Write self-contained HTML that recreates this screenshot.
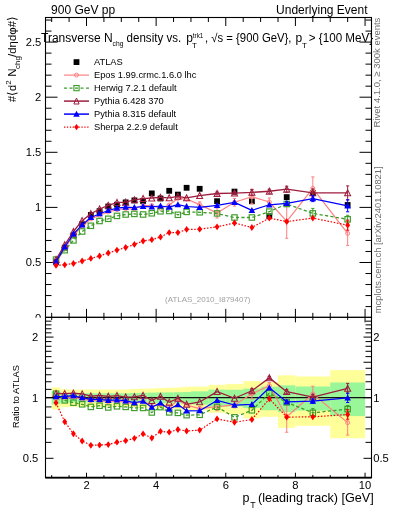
<!DOCTYPE html>
<html><head><meta charset="utf-8"><style>html,body{margin:0;padding:0;background:#fff;width:393px;height:512px;overflow:hidden}svg{display:block;will-change:transform}</style></head>
<body><svg width="393" height="512" viewBox="0 0 393 512"><text x="41.3" y="46.00" text-anchor="end" font-size="11.2" font-family="Liberation Sans, sans-serif">2.5</text>
<text x="41.3" y="101.10" text-anchor="end" font-size="11.2" font-family="Liberation Sans, sans-serif">2</text>
<text x="41.3" y="156.20" text-anchor="end" font-size="11.2" font-family="Liberation Sans, sans-serif">1.5</text>
<text x="41.3" y="211.30" text-anchor="end" font-size="11.2" font-family="Liberation Sans, sans-serif">1</text>
<text x="41.3" y="266.40" text-anchor="end" font-size="11.2" font-family="Liberation Sans, sans-serif">0.5</text>
<text x="41.3" y="321.50" text-anchor="end" font-size="11.2" font-family="Liberation Sans, sans-serif">0</text>
<line x1="45.50" y1="317.60" x2="57.50" y2="317.60" stroke="#000" stroke-width="1" />
<line x1="371.50" y1="317.60" x2="359.50" y2="317.60" stroke="#000" stroke-width="1" />
<line x1="45.50" y1="306.58" x2="51.50" y2="306.58" stroke="#000" stroke-width="1" />
<line x1="371.50" y1="306.58" x2="365.50" y2="306.58" stroke="#000" stroke-width="1" />
<line x1="45.50" y1="295.56" x2="51.50" y2="295.56" stroke="#000" stroke-width="1" />
<line x1="371.50" y1="295.56" x2="365.50" y2="295.56" stroke="#000" stroke-width="1" />
<line x1="45.50" y1="284.54" x2="51.50" y2="284.54" stroke="#000" stroke-width="1" />
<line x1="371.50" y1="284.54" x2="365.50" y2="284.54" stroke="#000" stroke-width="1" />
<line x1="45.50" y1="273.52" x2="51.50" y2="273.52" stroke="#000" stroke-width="1" />
<line x1="371.50" y1="273.52" x2="365.50" y2="273.52" stroke="#000" stroke-width="1" />
<line x1="45.50" y1="262.50" x2="57.50" y2="262.50" stroke="#000" stroke-width="1" />
<line x1="371.50" y1="262.50" x2="359.50" y2="262.50" stroke="#000" stroke-width="1" />
<line x1="45.50" y1="251.48" x2="51.50" y2="251.48" stroke="#000" stroke-width="1" />
<line x1="371.50" y1="251.48" x2="365.50" y2="251.48" stroke="#000" stroke-width="1" />
<line x1="45.50" y1="240.46" x2="51.50" y2="240.46" stroke="#000" stroke-width="1" />
<line x1="371.50" y1="240.46" x2="365.50" y2="240.46" stroke="#000" stroke-width="1" />
<line x1="45.50" y1="229.44" x2="51.50" y2="229.44" stroke="#000" stroke-width="1" />
<line x1="371.50" y1="229.44" x2="365.50" y2="229.44" stroke="#000" stroke-width="1" />
<line x1="45.50" y1="218.42" x2="51.50" y2="218.42" stroke="#000" stroke-width="1" />
<line x1="371.50" y1="218.42" x2="365.50" y2="218.42" stroke="#000" stroke-width="1" />
<line x1="45.50" y1="207.40" x2="57.50" y2="207.40" stroke="#000" stroke-width="1" />
<line x1="371.50" y1="207.40" x2="359.50" y2="207.40" stroke="#000" stroke-width="1" />
<line x1="45.50" y1="196.38" x2="51.50" y2="196.38" stroke="#000" stroke-width="1" />
<line x1="371.50" y1="196.38" x2="365.50" y2="196.38" stroke="#000" stroke-width="1" />
<line x1="45.50" y1="185.36" x2="51.50" y2="185.36" stroke="#000" stroke-width="1" />
<line x1="371.50" y1="185.36" x2="365.50" y2="185.36" stroke="#000" stroke-width="1" />
<line x1="45.50" y1="174.34" x2="51.50" y2="174.34" stroke="#000" stroke-width="1" />
<line x1="371.50" y1="174.34" x2="365.50" y2="174.34" stroke="#000" stroke-width="1" />
<line x1="45.50" y1="163.32" x2="51.50" y2="163.32" stroke="#000" stroke-width="1" />
<line x1="371.50" y1="163.32" x2="365.50" y2="163.32" stroke="#000" stroke-width="1" />
<line x1="45.50" y1="152.30" x2="57.50" y2="152.30" stroke="#000" stroke-width="1" />
<line x1="371.50" y1="152.30" x2="359.50" y2="152.30" stroke="#000" stroke-width="1" />
<line x1="45.50" y1="141.28" x2="51.50" y2="141.28" stroke="#000" stroke-width="1" />
<line x1="371.50" y1="141.28" x2="365.50" y2="141.28" stroke="#000" stroke-width="1" />
<line x1="45.50" y1="130.26" x2="51.50" y2="130.26" stroke="#000" stroke-width="1" />
<line x1="371.50" y1="130.26" x2="365.50" y2="130.26" stroke="#000" stroke-width="1" />
<line x1="45.50" y1="119.24" x2="51.50" y2="119.24" stroke="#000" stroke-width="1" />
<line x1="371.50" y1="119.24" x2="365.50" y2="119.24" stroke="#000" stroke-width="1" />
<line x1="45.50" y1="108.22" x2="51.50" y2="108.22" stroke="#000" stroke-width="1" />
<line x1="371.50" y1="108.22" x2="365.50" y2="108.22" stroke="#000" stroke-width="1" />
<line x1="45.50" y1="97.20" x2="57.50" y2="97.20" stroke="#000" stroke-width="1" />
<line x1="371.50" y1="97.20" x2="359.50" y2="97.20" stroke="#000" stroke-width="1" />
<line x1="45.50" y1="86.18" x2="51.50" y2="86.18" stroke="#000" stroke-width="1" />
<line x1="371.50" y1="86.18" x2="365.50" y2="86.18" stroke="#000" stroke-width="1" />
<line x1="45.50" y1="75.16" x2="51.50" y2="75.16" stroke="#000" stroke-width="1" />
<line x1="371.50" y1="75.16" x2="365.50" y2="75.16" stroke="#000" stroke-width="1" />
<line x1="45.50" y1="64.14" x2="51.50" y2="64.14" stroke="#000" stroke-width="1" />
<line x1="371.50" y1="64.14" x2="365.50" y2="64.14" stroke="#000" stroke-width="1" />
<line x1="45.50" y1="53.12" x2="51.50" y2="53.12" stroke="#000" stroke-width="1" />
<line x1="371.50" y1="53.12" x2="365.50" y2="53.12" stroke="#000" stroke-width="1" />
<line x1="45.50" y1="42.10" x2="57.50" y2="42.10" stroke="#000" stroke-width="1" />
<line x1="371.50" y1="42.10" x2="359.50" y2="42.10" stroke="#000" stroke-width="1" />
<line x1="45.50" y1="31.08" x2="51.50" y2="31.08" stroke="#000" stroke-width="1" />
<line x1="371.50" y1="31.08" x2="365.50" y2="31.08" stroke="#000" stroke-width="1" />
<line x1="45.50" y1="20.06" x2="51.50" y2="20.06" stroke="#000" stroke-width="1" />
<line x1="371.50" y1="20.06" x2="365.50" y2="20.06" stroke="#000" stroke-width="1" />
<line x1="51.68" y1="17.50" x2="51.68" y2="22.00" stroke="#000" stroke-width="1" />
<line x1="51.68" y1="317.35" x2="51.68" y2="312.85" stroke="#000" stroke-width="1" />
<line x1="69.09" y1="17.50" x2="69.09" y2="22.00" stroke="#000" stroke-width="1" />
<line x1="69.09" y1="317.35" x2="69.09" y2="312.85" stroke="#000" stroke-width="1" />
<line x1="86.50" y1="17.50" x2="86.50" y2="26.00" stroke="#000" stroke-width="1" />
<line x1="86.50" y1="317.35" x2="86.50" y2="308.85" stroke="#000" stroke-width="1" />
<line x1="103.91" y1="17.50" x2="103.91" y2="22.00" stroke="#000" stroke-width="1" />
<line x1="103.91" y1="317.35" x2="103.91" y2="312.85" stroke="#000" stroke-width="1" />
<line x1="121.32" y1="17.50" x2="121.32" y2="22.00" stroke="#000" stroke-width="1" />
<line x1="121.32" y1="317.35" x2="121.32" y2="312.85" stroke="#000" stroke-width="1" />
<line x1="138.73" y1="17.50" x2="138.73" y2="22.00" stroke="#000" stroke-width="1" />
<line x1="138.73" y1="317.35" x2="138.73" y2="312.85" stroke="#000" stroke-width="1" />
<line x1="156.14" y1="17.50" x2="156.14" y2="26.00" stroke="#000" stroke-width="1" />
<line x1="156.14" y1="317.35" x2="156.14" y2="308.85" stroke="#000" stroke-width="1" />
<line x1="173.55" y1="17.50" x2="173.55" y2="22.00" stroke="#000" stroke-width="1" />
<line x1="173.55" y1="317.35" x2="173.55" y2="312.85" stroke="#000" stroke-width="1" />
<line x1="190.96" y1="17.50" x2="190.96" y2="22.00" stroke="#000" stroke-width="1" />
<line x1="190.96" y1="317.35" x2="190.96" y2="312.85" stroke="#000" stroke-width="1" />
<line x1="208.37" y1="17.50" x2="208.37" y2="22.00" stroke="#000" stroke-width="1" />
<line x1="208.37" y1="317.35" x2="208.37" y2="312.85" stroke="#000" stroke-width="1" />
<line x1="225.78" y1="17.50" x2="225.78" y2="26.00" stroke="#000" stroke-width="1" />
<line x1="225.78" y1="317.35" x2="225.78" y2="308.85" stroke="#000" stroke-width="1" />
<line x1="243.19" y1="17.50" x2="243.19" y2="22.00" stroke="#000" stroke-width="1" />
<line x1="243.19" y1="317.35" x2="243.19" y2="312.85" stroke="#000" stroke-width="1" />
<line x1="260.60" y1="17.50" x2="260.60" y2="22.00" stroke="#000" stroke-width="1" />
<line x1="260.60" y1="317.35" x2="260.60" y2="312.85" stroke="#000" stroke-width="1" />
<line x1="278.01" y1="17.50" x2="278.01" y2="22.00" stroke="#000" stroke-width="1" />
<line x1="278.01" y1="317.35" x2="278.01" y2="312.85" stroke="#000" stroke-width="1" />
<line x1="295.42" y1="17.50" x2="295.42" y2="26.00" stroke="#000" stroke-width="1" />
<line x1="295.42" y1="317.35" x2="295.42" y2="308.85" stroke="#000" stroke-width="1" />
<line x1="312.83" y1="17.50" x2="312.83" y2="22.00" stroke="#000" stroke-width="1" />
<line x1="312.83" y1="317.35" x2="312.83" y2="312.85" stroke="#000" stroke-width="1" />
<line x1="330.24" y1="17.50" x2="330.24" y2="22.00" stroke="#000" stroke-width="1" />
<line x1="330.24" y1="317.35" x2="330.24" y2="312.85" stroke="#000" stroke-width="1" />
<line x1="347.65" y1="17.50" x2="347.65" y2="22.00" stroke="#000" stroke-width="1" />
<line x1="347.65" y1="317.35" x2="347.65" y2="312.85" stroke="#000" stroke-width="1" />
<line x1="365.06" y1="17.50" x2="365.06" y2="26.00" stroke="#000" stroke-width="1" />
<line x1="365.06" y1="317.35" x2="365.06" y2="308.85" stroke="#000" stroke-width="1" />
<rect x="53.13" y="259.00" width="5.8" height="5.8" fill="#000"/>
<rect x="61.84" y="244.80" width="5.8" height="5.8" fill="#000"/>
<rect x="70.54" y="232.50" width="5.8" height="5.8" fill="#000"/>
<rect x="79.25" y="221.30" width="5.8" height="5.8" fill="#000"/>
<rect x="87.95" y="212.10" width="5.8" height="5.8" fill="#000"/>
<rect x="96.66" y="208.20" width="5.8" height="5.8" fill="#000"/>
<rect x="105.36" y="203.60" width="5.8" height="5.8" fill="#000"/>
<rect x="114.07" y="201.80" width="5.8" height="5.8" fill="#000"/>
<rect x="122.77" y="199.50" width="5.8" height="5.8" fill="#000"/>
<rect x="131.48" y="197.50" width="5.8" height="5.8" fill="#000"/>
<rect x="140.18" y="198.10" width="5.8" height="5.8" fill="#000"/>
<rect x="148.89" y="190.50" width="5.8" height="5.8" fill="#000"/>
<rect x="157.59" y="195.60" width="5.8" height="5.8" fill="#000"/>
<rect x="166.30" y="187.90" width="5.8" height="5.8" fill="#000"/>
<rect x="175.00" y="191.70" width="5.8" height="5.8" fill="#000"/>
<rect x="183.71" y="184.90" width="5.8" height="5.8" fill="#000"/>
<rect x="196.77" y="185.90" width="5.8" height="5.8" fill="#000"/>
<rect x="214.17" y="198.30" width="5.8" height="5.8" fill="#000"/>
<rect x="231.59" y="188.70" width="5.8" height="5.8" fill="#000"/>
<rect x="248.99" y="198.40" width="5.8" height="5.8" fill="#000"/>
<rect x="266.41" y="213.40" width="5.8" height="5.8" fill="#000"/>
<rect x="283.82" y="194.20" width="5.8" height="5.8" fill="#000"/>
<rect x="309.93" y="190.10" width="5.8" height="5.8" fill="#000"/>
<rect x="344.75" y="202.10" width="5.8" height="5.8" fill="#000"/>
<line x1="199.67" y1="201.90" x2="199.67" y2="207.30" stroke="#ff8080" stroke-width="1.0" />
<line x1="198.07" y1="201.90" x2="201.27" y2="201.90" stroke="#ff8080" stroke-width="1.0" />
<line x1="198.07" y1="207.30" x2="201.27" y2="207.30" stroke="#ff8080" stroke-width="1.0" />
<line x1="217.07" y1="208.00" x2="217.07" y2="218.00" stroke="#ff8080" stroke-width="1.0" />
<line x1="215.47" y1="208.00" x2="218.67" y2="208.00" stroke="#ff8080" stroke-width="1.0" />
<line x1="215.47" y1="218.00" x2="218.67" y2="218.00" stroke="#ff8080" stroke-width="1.0" />
<line x1="234.49" y1="198.50" x2="234.49" y2="206.10" stroke="#ff8080" stroke-width="1.0" />
<line x1="232.89" y1="198.50" x2="236.09" y2="198.50" stroke="#ff8080" stroke-width="1.0" />
<line x1="232.89" y1="206.10" x2="236.09" y2="206.10" stroke="#ff8080" stroke-width="1.0" />
<line x1="251.89" y1="189.70" x2="251.89" y2="203.70" stroke="#ff8080" stroke-width="1.0" />
<line x1="250.29" y1="189.70" x2="253.49" y2="189.70" stroke="#ff8080" stroke-width="1.0" />
<line x1="250.29" y1="203.70" x2="253.49" y2="203.70" stroke="#ff8080" stroke-width="1.0" />
<line x1="269.31" y1="198.00" x2="269.31" y2="206.00" stroke="#ff8080" stroke-width="1.0" />
<line x1="267.70" y1="198.00" x2="270.91" y2="198.00" stroke="#ff8080" stroke-width="1.0" />
<line x1="267.70" y1="206.00" x2="270.91" y2="206.00" stroke="#ff8080" stroke-width="1.0" />
<line x1="286.72" y1="204.30" x2="286.72" y2="238.30" stroke="#ff8080" stroke-width="1.0" />
<line x1="285.12" y1="204.30" x2="288.32" y2="204.30" stroke="#ff8080" stroke-width="1.0" />
<line x1="285.12" y1="238.30" x2="288.32" y2="238.30" stroke="#ff8080" stroke-width="1.0" />
<line x1="312.83" y1="176.90" x2="312.83" y2="199.90" stroke="#ff8080" stroke-width="1.0" />
<line x1="311.23" y1="176.90" x2="314.43" y2="176.90" stroke="#ff8080" stroke-width="1.0" />
<line x1="311.23" y1="199.90" x2="314.43" y2="199.90" stroke="#ff8080" stroke-width="1.0" />
<line x1="347.65" y1="221.40" x2="347.65" y2="245.40" stroke="#ff8080" stroke-width="1.0" />
<line x1="346.05" y1="221.40" x2="349.25" y2="221.40" stroke="#ff8080" stroke-width="1.0" />
<line x1="346.05" y1="245.40" x2="349.25" y2="245.40" stroke="#ff8080" stroke-width="1.0" />
<polyline points="56.03,263.00 64.74,248.50 73.44,235.50 82.15,226.30 90.85,219.00 99.56,215.20 108.26,212.00 116.97,209.70 125.67,208.60 134.38,209.00 143.08,205.50 151.79,205.50 160.49,208.20 169.20,205.00 177.90,198.40 186.61,199.00 199.67,204.60 217.07,213.00 234.49,202.30 251.89,196.70 269.31,202.00 286.72,221.30 312.83,188.40 347.65,233.40" fill="none" stroke="#ff8080" stroke-width="1.2" stroke-linejoin="round"/>
<circle cx="56.03" cy="263.00" r="2.0" fill="none" stroke="#ff8080" stroke-width="1.0"/>
<circle cx="64.74" cy="248.50" r="2.0" fill="none" stroke="#ff8080" stroke-width="1.0"/>
<circle cx="73.44" cy="235.50" r="2.0" fill="none" stroke="#ff8080" stroke-width="1.0"/>
<circle cx="82.15" cy="226.30" r="2.0" fill="none" stroke="#ff8080" stroke-width="1.0"/>
<circle cx="90.85" cy="219.00" r="2.0" fill="none" stroke="#ff8080" stroke-width="1.0"/>
<circle cx="99.56" cy="215.20" r="2.0" fill="none" stroke="#ff8080" stroke-width="1.0"/>
<circle cx="108.26" cy="212.00" r="2.0" fill="none" stroke="#ff8080" stroke-width="1.0"/>
<circle cx="116.97" cy="209.70" r="2.0" fill="none" stroke="#ff8080" stroke-width="1.0"/>
<circle cx="125.67" cy="208.60" r="2.0" fill="none" stroke="#ff8080" stroke-width="1.0"/>
<circle cx="134.38" cy="209.00" r="2.0" fill="none" stroke="#ff8080" stroke-width="1.0"/>
<circle cx="143.08" cy="205.50" r="2.0" fill="none" stroke="#ff8080" stroke-width="1.0"/>
<circle cx="151.79" cy="205.50" r="2.0" fill="none" stroke="#ff8080" stroke-width="1.0"/>
<circle cx="160.49" cy="208.20" r="2.0" fill="none" stroke="#ff8080" stroke-width="1.0"/>
<circle cx="169.20" cy="205.00" r="2.0" fill="none" stroke="#ff8080" stroke-width="1.0"/>
<circle cx="177.90" cy="198.40" r="2.0" fill="none" stroke="#ff8080" stroke-width="1.0"/>
<circle cx="186.61" cy="199.00" r="2.0" fill="none" stroke="#ff8080" stroke-width="1.0"/>
<circle cx="199.67" cy="204.60" r="2.0" fill="none" stroke="#ff8080" stroke-width="1.0"/>
<circle cx="217.07" cy="213.00" r="2.0" fill="none" stroke="#ff8080" stroke-width="1.0"/>
<circle cx="234.49" cy="202.30" r="2.0" fill="none" stroke="#ff8080" stroke-width="1.0"/>
<circle cx="251.89" cy="196.70" r="2.0" fill="none" stroke="#ff8080" stroke-width="1.0"/>
<circle cx="269.31" cy="202.00" r="2.0" fill="none" stroke="#ff8080" stroke-width="1.0"/>
<circle cx="286.72" cy="221.30" r="2.0" fill="none" stroke="#ff8080" stroke-width="1.0"/>
<circle cx="312.83" cy="188.40" r="2.0" fill="none" stroke="#ff8080" stroke-width="1.0"/>
<circle cx="347.65" cy="233.40" r="2.0" fill="none" stroke="#ff8080" stroke-width="1.0"/>
<line x1="286.72" y1="202.00" x2="286.72" y2="206.00" stroke="#3c9c28" stroke-width="1.0" />
<line x1="285.12" y1="202.00" x2="288.32" y2="202.00" stroke="#3c9c28" stroke-width="1.0" />
<line x1="285.12" y1="206.00" x2="288.32" y2="206.00" stroke="#3c9c28" stroke-width="1.0" />
<line x1="312.83" y1="208.40" x2="312.83" y2="218.40" stroke="#3c9c28" stroke-width="1.0" />
<line x1="311.23" y1="208.40" x2="314.43" y2="208.40" stroke="#3c9c28" stroke-width="1.0" />
<line x1="311.23" y1="218.40" x2="314.43" y2="218.40" stroke="#3c9c28" stroke-width="1.0" />
<line x1="347.65" y1="215.30" x2="347.65" y2="223.30" stroke="#3c9c28" stroke-width="1.0" />
<line x1="346.05" y1="215.30" x2="349.25" y2="215.30" stroke="#3c9c28" stroke-width="1.0" />
<line x1="346.05" y1="223.30" x2="349.25" y2="223.30" stroke="#3c9c28" stroke-width="1.0" />
<polyline points="56.03,259.60 64.74,250.20 73.44,240.40 82.15,231.50 90.85,225.80 99.56,221.00 108.26,218.80 116.97,215.90 125.67,214.50 134.38,213.90 143.08,214.50 151.79,213.30 160.49,211.30 169.20,211.00 177.90,214.80 186.61,211.90 199.67,212.30 217.07,213.40 234.49,217.50 251.89,217.50 269.31,211.60 286.72,204.00 312.83,213.40 347.65,219.30" fill="none" stroke="#3c9c28" stroke-width="1.3" stroke-dasharray="3.2,2.3" stroke-linejoin="round"/>
<rect x="53.33" y="256.90" width="5.4" height="5.4" fill="none" stroke="#3c9c28" stroke-width="1.15"/>
<rect x="62.04" y="247.50" width="5.4" height="5.4" fill="none" stroke="#3c9c28" stroke-width="1.15"/>
<rect x="70.74" y="237.70" width="5.4" height="5.4" fill="none" stroke="#3c9c28" stroke-width="1.15"/>
<rect x="79.45" y="228.80" width="5.4" height="5.4" fill="none" stroke="#3c9c28" stroke-width="1.15"/>
<rect x="88.15" y="223.10" width="5.4" height="5.4" fill="none" stroke="#3c9c28" stroke-width="1.15"/>
<rect x="96.86" y="218.30" width="5.4" height="5.4" fill="none" stroke="#3c9c28" stroke-width="1.15"/>
<rect x="105.56" y="216.10" width="5.4" height="5.4" fill="none" stroke="#3c9c28" stroke-width="1.15"/>
<rect x="114.27" y="213.20" width="5.4" height="5.4" fill="none" stroke="#3c9c28" stroke-width="1.15"/>
<rect x="122.97" y="211.80" width="5.4" height="5.4" fill="none" stroke="#3c9c28" stroke-width="1.15"/>
<rect x="131.68" y="211.20" width="5.4" height="5.4" fill="none" stroke="#3c9c28" stroke-width="1.15"/>
<rect x="140.38" y="211.80" width="5.4" height="5.4" fill="none" stroke="#3c9c28" stroke-width="1.15"/>
<rect x="149.09" y="210.60" width="5.4" height="5.4" fill="none" stroke="#3c9c28" stroke-width="1.15"/>
<rect x="157.79" y="208.60" width="5.4" height="5.4" fill="none" stroke="#3c9c28" stroke-width="1.15"/>
<rect x="166.50" y="208.30" width="5.4" height="5.4" fill="none" stroke="#3c9c28" stroke-width="1.15"/>
<rect x="175.20" y="212.10" width="5.4" height="5.4" fill="none" stroke="#3c9c28" stroke-width="1.15"/>
<rect x="183.91" y="209.20" width="5.4" height="5.4" fill="none" stroke="#3c9c28" stroke-width="1.15"/>
<rect x="196.97" y="209.60" width="5.4" height="5.4" fill="none" stroke="#3c9c28" stroke-width="1.15"/>
<rect x="214.38" y="210.70" width="5.4" height="5.4" fill="none" stroke="#3c9c28" stroke-width="1.15"/>
<rect x="231.79" y="214.80" width="5.4" height="5.4" fill="none" stroke="#3c9c28" stroke-width="1.15"/>
<rect x="249.19" y="214.80" width="5.4" height="5.4" fill="none" stroke="#3c9c28" stroke-width="1.15"/>
<rect x="266.61" y="208.90" width="5.4" height="5.4" fill="none" stroke="#3c9c28" stroke-width="1.15"/>
<rect x="284.02" y="201.30" width="5.4" height="5.4" fill="none" stroke="#3c9c28" stroke-width="1.15"/>
<rect x="310.13" y="210.70" width="5.4" height="5.4" fill="none" stroke="#3c9c28" stroke-width="1.15"/>
<rect x="344.95" y="216.60" width="5.4" height="5.4" fill="none" stroke="#3c9c28" stroke-width="1.15"/>
<line x1="217.07" y1="192.00" x2="217.07" y2="195.00" stroke="#9e1e3e" stroke-width="1.0" />
<line x1="215.47" y1="192.00" x2="218.67" y2="192.00" stroke="#9e1e3e" stroke-width="1.0" />
<line x1="215.47" y1="195.00" x2="218.67" y2="195.00" stroke="#9e1e3e" stroke-width="1.0" />
<line x1="234.49" y1="191.60" x2="234.49" y2="194.60" stroke="#9e1e3e" stroke-width="1.0" />
<line x1="232.89" y1="191.60" x2="236.09" y2="191.60" stroke="#9e1e3e" stroke-width="1.0" />
<line x1="232.89" y1="194.60" x2="236.09" y2="194.60" stroke="#9e1e3e" stroke-width="1.0" />
<line x1="251.89" y1="189.40" x2="251.89" y2="195.40" stroke="#9e1e3e" stroke-width="1.0" />
<line x1="250.29" y1="189.40" x2="253.49" y2="189.40" stroke="#9e1e3e" stroke-width="1.0" />
<line x1="250.29" y1="195.40" x2="253.49" y2="195.40" stroke="#9e1e3e" stroke-width="1.0" />
<line x1="269.31" y1="189.25" x2="269.31" y2="193.25" stroke="#9e1e3e" stroke-width="1.0" />
<line x1="267.70" y1="189.25" x2="270.91" y2="189.25" stroke="#9e1e3e" stroke-width="1.0" />
<line x1="267.70" y1="193.25" x2="270.91" y2="193.25" stroke="#9e1e3e" stroke-width="1.0" />
<line x1="286.72" y1="186.20" x2="286.72" y2="192.20" stroke="#9e1e3e" stroke-width="1.0" />
<line x1="285.12" y1="186.20" x2="288.32" y2="186.20" stroke="#9e1e3e" stroke-width="1.0" />
<line x1="285.12" y1="192.20" x2="288.32" y2="192.20" stroke="#9e1e3e" stroke-width="1.0" />
<line x1="312.83" y1="188.90" x2="312.83" y2="196.90" stroke="#9e1e3e" stroke-width="1.0" />
<line x1="311.23" y1="188.90" x2="314.43" y2="188.90" stroke="#9e1e3e" stroke-width="1.0" />
<line x1="311.23" y1="196.90" x2="314.43" y2="196.90" stroke="#9e1e3e" stroke-width="1.0" />
<line x1="347.65" y1="185.90" x2="347.65" y2="199.90" stroke="#9e1e3e" stroke-width="1.0" />
<line x1="346.05" y1="185.90" x2="349.25" y2="185.90" stroke="#9e1e3e" stroke-width="1.0" />
<line x1="346.05" y1="199.90" x2="349.25" y2="199.90" stroke="#9e1e3e" stroke-width="1.0" />
<polyline points="56.03,259.50 64.74,244.80 73.44,231.50 82.15,220.70 90.85,213.70 99.56,209.00 108.26,205.40 116.97,202.60 125.67,202.20 134.38,199.90 143.08,198.60 151.79,198.00 160.49,197.40 169.20,197.90 177.90,196.30 186.61,197.90 199.67,195.60 217.07,193.50 234.49,193.10 251.89,192.40 269.31,191.25 286.72,189.20 312.83,192.90 347.65,192.90" fill="none" stroke="#9e1e3e" stroke-width="1.3" stroke-linejoin="round"/>
<polygon points="56.03,256.40 53.03,262.40 59.03,262.40" fill="none" stroke="#9e1e3e" stroke-width="1.05" stroke-linejoin="miter"/>
<polygon points="64.74,241.70 61.74,247.70 67.74,247.70" fill="none" stroke="#9e1e3e" stroke-width="1.05" stroke-linejoin="miter"/>
<polygon points="73.44,228.40 70.44,234.40 76.44,234.40" fill="none" stroke="#9e1e3e" stroke-width="1.05" stroke-linejoin="miter"/>
<polygon points="82.15,217.60 79.15,223.60 85.15,223.60" fill="none" stroke="#9e1e3e" stroke-width="1.05" stroke-linejoin="miter"/>
<polygon points="90.85,210.60 87.85,216.60 93.85,216.60" fill="none" stroke="#9e1e3e" stroke-width="1.05" stroke-linejoin="miter"/>
<polygon points="99.56,205.90 96.56,211.90 102.56,211.90" fill="none" stroke="#9e1e3e" stroke-width="1.05" stroke-linejoin="miter"/>
<polygon points="108.26,202.30 105.26,208.30 111.26,208.30" fill="none" stroke="#9e1e3e" stroke-width="1.05" stroke-linejoin="miter"/>
<polygon points="116.97,199.50 113.97,205.50 119.97,205.50" fill="none" stroke="#9e1e3e" stroke-width="1.05" stroke-linejoin="miter"/>
<polygon points="125.67,199.10 122.67,205.10 128.67,205.10" fill="none" stroke="#9e1e3e" stroke-width="1.05" stroke-linejoin="miter"/>
<polygon points="134.38,196.80 131.38,202.80 137.38,202.80" fill="none" stroke="#9e1e3e" stroke-width="1.05" stroke-linejoin="miter"/>
<polygon points="143.08,195.50 140.08,201.50 146.08,201.50" fill="none" stroke="#9e1e3e" stroke-width="1.05" stroke-linejoin="miter"/>
<polygon points="151.79,194.90 148.79,200.90 154.79,200.90" fill="none" stroke="#9e1e3e" stroke-width="1.05" stroke-linejoin="miter"/>
<polygon points="160.49,194.30 157.49,200.30 163.49,200.30" fill="none" stroke="#9e1e3e" stroke-width="1.05" stroke-linejoin="miter"/>
<polygon points="169.20,194.80 166.20,200.80 172.20,200.80" fill="none" stroke="#9e1e3e" stroke-width="1.05" stroke-linejoin="miter"/>
<polygon points="177.90,193.20 174.90,199.20 180.90,199.20" fill="none" stroke="#9e1e3e" stroke-width="1.05" stroke-linejoin="miter"/>
<polygon points="186.61,194.80 183.61,200.80 189.61,200.80" fill="none" stroke="#9e1e3e" stroke-width="1.05" stroke-linejoin="miter"/>
<polygon points="199.67,192.50 196.67,198.50 202.67,198.50" fill="none" stroke="#9e1e3e" stroke-width="1.05" stroke-linejoin="miter"/>
<polygon points="217.07,190.40 214.07,196.40 220.07,196.40" fill="none" stroke="#9e1e3e" stroke-width="1.05" stroke-linejoin="miter"/>
<polygon points="234.49,190.00 231.49,196.00 237.49,196.00" fill="none" stroke="#9e1e3e" stroke-width="1.05" stroke-linejoin="miter"/>
<polygon points="251.89,189.30 248.89,195.30 254.89,195.30" fill="none" stroke="#9e1e3e" stroke-width="1.05" stroke-linejoin="miter"/>
<polygon points="269.31,188.15 266.31,194.15 272.31,194.15" fill="none" stroke="#9e1e3e" stroke-width="1.05" stroke-linejoin="miter"/>
<polygon points="286.72,186.10 283.72,192.10 289.72,192.10" fill="none" stroke="#9e1e3e" stroke-width="1.05" stroke-linejoin="miter"/>
<polygon points="312.83,189.80 309.83,195.80 315.83,195.80" fill="none" stroke="#9e1e3e" stroke-width="1.05" stroke-linejoin="miter"/>
<polygon points="347.65,189.80 344.65,195.80 350.65,195.80" fill="none" stroke="#9e1e3e" stroke-width="1.05" stroke-linejoin="miter"/>
<line x1="286.72" y1="201.30" x2="286.72" y2="205.30" stroke="#0000ff" stroke-width="1.0" />
<line x1="285.12" y1="201.30" x2="288.32" y2="201.30" stroke="#0000ff" stroke-width="1.0" />
<line x1="285.12" y1="205.30" x2="288.32" y2="205.30" stroke="#0000ff" stroke-width="1.0" />
<line x1="312.83" y1="195.60" x2="312.83" y2="201.60" stroke="#0000ff" stroke-width="1.0" />
<line x1="311.23" y1="195.60" x2="314.43" y2="195.60" stroke="#0000ff" stroke-width="1.0" />
<line x1="311.23" y1="201.60" x2="314.43" y2="201.60" stroke="#0000ff" stroke-width="1.0" />
<line x1="347.65" y1="199.80" x2="347.65" y2="211.80" stroke="#0000ff" stroke-width="1.0" />
<line x1="346.05" y1="199.80" x2="349.25" y2="199.80" stroke="#0000ff" stroke-width="1.0" />
<line x1="346.05" y1="211.80" x2="349.25" y2="211.80" stroke="#0000ff" stroke-width="1.0" />
<polyline points="56.03,261.60 64.74,247.00 73.44,234.00 82.15,224.80 90.85,217.50 99.56,213.70 108.26,210.50 116.97,208.20 125.67,207.10 134.38,207.50 143.08,206.30 151.79,206.90 160.49,206.00 169.20,207.10 177.90,204.60 186.61,206.50 199.67,207.30 217.07,205.40 234.49,202.40 251.89,210.40 269.31,204.80 286.72,203.30 312.83,198.60 347.65,205.80" fill="none" stroke="#0000ff" stroke-width="1.2" stroke-linejoin="round"/>
<polygon points="56.03,258.20 52.73,264.20 59.33,264.20" fill="#0000ff"/>
<polygon points="64.74,243.60 61.44,249.60 68.04,249.60" fill="#0000ff"/>
<polygon points="73.44,230.60 70.14,236.60 76.74,236.60" fill="#0000ff"/>
<polygon points="82.15,221.40 78.85,227.40 85.45,227.40" fill="#0000ff"/>
<polygon points="90.85,214.10 87.55,220.10 94.15,220.10" fill="#0000ff"/>
<polygon points="99.56,210.30 96.26,216.30 102.86,216.30" fill="#0000ff"/>
<polygon points="108.26,207.10 104.96,213.10 111.56,213.10" fill="#0000ff"/>
<polygon points="116.97,204.80 113.67,210.80 120.27,210.80" fill="#0000ff"/>
<polygon points="125.67,203.70 122.37,209.70 128.97,209.70" fill="#0000ff"/>
<polygon points="134.38,204.10 131.08,210.10 137.68,210.10" fill="#0000ff"/>
<polygon points="143.08,202.90 139.78,208.90 146.38,208.90" fill="#0000ff"/>
<polygon points="151.79,203.50 148.49,209.50 155.09,209.50" fill="#0000ff"/>
<polygon points="160.49,202.60 157.19,208.60 163.79,208.60" fill="#0000ff"/>
<polygon points="169.20,203.70 165.90,209.70 172.50,209.70" fill="#0000ff"/>
<polygon points="177.90,201.20 174.60,207.20 181.20,207.20" fill="#0000ff"/>
<polygon points="186.61,203.10 183.31,209.10 189.91,209.10" fill="#0000ff"/>
<polygon points="199.67,203.90 196.37,209.90 202.97,209.90" fill="#0000ff"/>
<polygon points="217.07,202.00 213.77,208.00 220.38,208.00" fill="#0000ff"/>
<polygon points="234.49,199.00 231.19,205.00 237.79,205.00" fill="#0000ff"/>
<polygon points="251.89,207.00 248.59,213.00 255.19,213.00" fill="#0000ff"/>
<polygon points="269.31,201.40 266.00,207.40 272.61,207.40" fill="#0000ff"/>
<polygon points="286.72,199.90 283.42,205.90 290.02,205.90" fill="#0000ff"/>
<polygon points="312.83,195.20 309.53,201.20 316.13,201.20" fill="#0000ff"/>
<polygon points="347.65,202.40 344.35,208.40 350.95,208.40" fill="#0000ff"/>
<line x1="347.65" y1="220.20" x2="347.65" y2="230.20" stroke="#ff0000" stroke-width="1.0" />
<line x1="346.05" y1="220.20" x2="349.25" y2="220.20" stroke="#ff0000" stroke-width="1.0" />
<line x1="346.05" y1="230.20" x2="349.25" y2="230.20" stroke="#ff0000" stroke-width="1.0" />
<polyline points="56.03,265.40 64.74,264.80 73.44,263.50 82.15,261.00 90.85,258.40 99.56,256.00 108.26,253.00 116.97,250.10 125.67,247.50 134.38,244.40 143.08,241.00 151.79,239.70 160.49,237.00 169.20,232.60 177.90,232.60 186.61,229.40 199.67,229.20 217.07,226.80 234.49,223.00 251.89,227.50 269.31,218.10 286.72,221.60 312.83,218.10 347.65,225.20" fill="none" stroke="#ff0000" stroke-width="1.2" stroke-dasharray="1.6,1.6" stroke-linejoin="round"/>
<polygon points="56.03,262.00 53.58,265.40 56.03,268.80 58.48,265.40" fill="#ff0000"/>
<polygon points="64.74,261.40 62.29,264.80 64.74,268.20 67.19,264.80" fill="#ff0000"/>
<polygon points="73.44,260.10 70.99,263.50 73.44,266.90 75.89,263.50" fill="#ff0000"/>
<polygon points="82.15,257.60 79.70,261.00 82.15,264.40 84.60,261.00" fill="#ff0000"/>
<polygon points="90.85,255.00 88.40,258.40 90.85,261.80 93.30,258.40" fill="#ff0000"/>
<polygon points="99.56,252.60 97.11,256.00 99.56,259.40 102.01,256.00" fill="#ff0000"/>
<polygon points="108.26,249.60 105.81,253.00 108.26,256.40 110.71,253.00" fill="#ff0000"/>
<polygon points="116.97,246.70 114.52,250.10 116.97,253.50 119.42,250.10" fill="#ff0000"/>
<polygon points="125.67,244.10 123.22,247.50 125.67,250.90 128.12,247.50" fill="#ff0000"/>
<polygon points="134.38,241.00 131.93,244.40 134.38,247.80 136.83,244.40" fill="#ff0000"/>
<polygon points="143.08,237.60 140.63,241.00 143.08,244.40 145.53,241.00" fill="#ff0000"/>
<polygon points="151.79,236.30 149.34,239.70 151.79,243.10 154.24,239.70" fill="#ff0000"/>
<polygon points="160.49,233.60 158.04,237.00 160.49,240.40 162.94,237.00" fill="#ff0000"/>
<polygon points="169.20,229.20 166.75,232.60 169.20,236.00 171.65,232.60" fill="#ff0000"/>
<polygon points="177.90,229.20 175.45,232.60 177.90,236.00 180.35,232.60" fill="#ff0000"/>
<polygon points="186.61,226.00 184.16,229.40 186.61,232.80 189.06,229.40" fill="#ff0000"/>
<polygon points="199.67,225.80 197.22,229.20 199.67,232.60 202.11,229.20" fill="#ff0000"/>
<polygon points="217.07,223.40 214.63,226.80 217.07,230.20 219.52,226.80" fill="#ff0000"/>
<polygon points="234.49,219.60 232.04,223.00 234.49,226.40 236.93,223.00" fill="#ff0000"/>
<polygon points="251.89,224.10 249.45,227.50 251.89,230.90 254.34,227.50" fill="#ff0000"/>
<polygon points="269.31,214.70 266.86,218.10 269.31,221.50 271.75,218.10" fill="#ff0000"/>
<polygon points="286.72,218.20 284.27,221.60 286.72,225.00 289.16,221.60" fill="#ff0000"/>
<polygon points="312.83,214.70 310.38,218.10 312.83,221.50 315.28,218.10" fill="#ff0000"/>
<polygon points="347.65,221.80 345.20,225.20 347.65,228.60 350.10,225.20" fill="#ff0000"/>
<rect x="45.5" y="17.5" width="326.0" height="299.85" fill="none" stroke="#000" stroke-width="1.1"/>
<text x="94.0" y="65.10" font-size="9.3" font-family="Liberation Sans, sans-serif">ATLAS</text>
<text x="94.0" y="78.10" font-size="9.3" font-family="Liberation Sans, sans-serif">Epos 1.99.crmc.1.6.0 lhc</text>
<text x="94.0" y="91.10" font-size="9.3" font-family="Liberation Sans, sans-serif">Herwig 7.2.1 default</text>
<text x="94.0" y="104.10" font-size="9.3" font-family="Liberation Sans, sans-serif">Pythia 6.428 370</text>
<text x="94.0" y="117.10" font-size="9.3" font-family="Liberation Sans, sans-serif">Pythia 8.315 default</text>
<text x="94.0" y="130.10" font-size="9.3" font-family="Liberation Sans, sans-serif">Sherpa 2.2.9 default</text>
<rect x="73.60" y="59.20" width="5.8" height="5.8" fill="#000"/>
<line x1="64.00" y1="75.10" x2="89.00" y2="75.10" stroke="#ff8080" stroke-width="1.2" />
<circle cx="76.50" cy="75.10" r="2.0" fill="none" stroke="#ff8080" stroke-width="1.0"/>
<line x1="64.00" y1="88.10" x2="89.00" y2="88.10" stroke="#3c9c28" stroke-width="1.3" stroke-dasharray="3,2.5"/>
<rect x="73.90" y="85.50" width="5.2" height="5.2" fill="none" stroke="#3c9c28" stroke-width="1.1"/>
<line x1="64.00" y1="101.10" x2="89.00" y2="101.10" stroke="#9e1e3e" stroke-width="1.5" />
<polygon points="76.50,98.00 73.90,104.00 79.10,104.00" fill="none" stroke="#9e1e3e" stroke-width="1.0" stroke-linejoin="miter"/>
<line x1="64.00" y1="114.10" x2="89.00" y2="114.10" stroke="#0000ff" stroke-width="1.5" />
<polygon points="76.50,110.70 73.25,116.70 79.75,116.70" fill="#0000ff"/>
<line x1="64.00" y1="127.10" x2="89.00" y2="127.10" stroke="#ff0000" stroke-width="1.3" stroke-dasharray="1.3,1.6"/>
<polygon points="76.50,123.90 74.20,127.10 76.50,130.30 78.80,127.10" fill="#ff0000"/>
<clipPath id="tc"><rect x="0" y="0" width="373" height="60"/></clipPath>
<g clip-path="url(#tc)" font-size="12" font-family="Liberation Sans, sans-serif">
<text x="41.0" y="41.9">Transverse</text>
<text x="104.0" y="41.9">N</text>
<text x="112.6" y="46" font-size="8" textLength="10.8" lengthAdjust="spacingAndGlyphs">chg</text>
<text x="126.6" y="41.9" textLength="54.6" lengthAdjust="spacingAndGlyphs">density vs.</text>
<text x="186.3" y="41.9">p</text>
<text x="192.8" y="38" font-size="8" textLength="10.5" lengthAdjust="spacingAndGlyphs">trk1</text>
<text x="192.0" y="48" font-size="8">T</text>
<text x="205" y="41.9" textLength="86.5" lengthAdjust="spacingAndGlyphs">, √s = {900 GeV},</text>
<text x="295.5" y="41.9">p</text>
<text x="302" y="48" font-size="8">T</text>
<text x="308.8" y="41.9" textLength="64.4" lengthAdjust="spacingAndGlyphs">&gt; {100 MeV}</text>
</g>
<text x="51.1" y="14.3" font-size="12" font-family="Liberation Sans, sans-serif">900 GeV pp</text>
<text x="367.5" y="14.3" font-size="12" text-anchor="end" font-family="Liberation Sans, sans-serif">Underlying Event</text>
<text transform="translate(380.1,127.4) rotate(-90)" font-size="9.5" fill="#6e6e6e" font-family="Liberation Sans, sans-serif">Rivet 4.1.0, ≥ 300k events</text>
<text transform="translate(381,313.3) rotate(-90)" font-size="9.4" fill="#6e6e6e" font-family="Liberation Sans, sans-serif">mcplots.cern.ch [arXiv:2401.10821]</text>
<g transform="translate(16.2,102) rotate(-90)" font-size="11.5" font-family="Liberation Sans, sans-serif">
<text x="0" y="0" textLength="17" lengthAdjust="spacingAndGlyphs">#⟨d</text>
<text x="17.2" y="-5" font-size="8">2</text>
<text x="25.3" y="0">N</text>
<text x="33.0" y="3.3" font-size="8">chg</text>
<text x="45.0" y="0" textLength="41" lengthAdjust="spacingAndGlyphs">/dηdφ#⟩</text>
</g>
<text x="165" y="302" font-size="8" fill="#a0a0a0" textLength="85.5" lengthAdjust="spacingAndGlyphs" font-family="Liberation Sans, sans-serif">(ATLAS_2010_I879407)</text>
<rect x="0" y="317.70" width="393" height="194.64999999999998" fill="#fff"/>
<rect x="51.68" y="387.33" width="8.70" height="22.15" fill="#ffff99"/>
<rect x="60.38" y="389.21" width="8.71" height="17.90" fill="#ffff99"/>
<rect x="69.09" y="389.53" width="8.70" height="17.19" fill="#ffff99"/>
<rect x="77.80" y="389.53" width="8.70" height="17.19" fill="#ffff99"/>
<rect x="86.50" y="389.53" width="8.70" height="17.19" fill="#ffff99"/>
<rect x="95.20" y="389.53" width="8.70" height="17.19" fill="#ffff99"/>
<rect x="103.91" y="389.53" width="8.70" height="17.19" fill="#ffff99"/>
<rect x="112.61" y="389.53" width="8.71" height="17.19" fill="#ffff99"/>
<rect x="121.32" y="389.53" width="8.70" height="17.19" fill="#ffff99"/>
<rect x="130.03" y="388.97" width="8.71" height="18.43" fill="#ffff99"/>
<rect x="138.73" y="388.73" width="8.70" height="18.96" fill="#ffff99"/>
<rect x="147.44" y="388.50" width="8.70" height="19.49" fill="#ffff99"/>
<rect x="156.14" y="388.03" width="8.71" height="20.55" fill="#ffff99"/>
<rect x="164.85" y="387.71" width="8.70" height="21.26" fill="#ffff99"/>
<rect x="173.55" y="387.48" width="8.70" height="21.79" fill="#ffff99"/>
<rect x="182.25" y="386.78" width="8.70" height="23.39" fill="#ffff99"/>
<rect x="190.96" y="386.71" width="17.41" height="23.57" fill="#ffff99"/>
<rect x="208.37" y="384.88" width="17.41" height="27.86" fill="#ffff99"/>
<rect x="225.78" y="383.90" width="17.41" height="30.20" fill="#ffff99"/>
<rect x="243.19" y="381.04" width="17.41" height="37.27" fill="#ffff99"/>
<rect x="260.60" y="381.98" width="17.41" height="34.90" fill="#ffff99"/>
<rect x="278.01" y="375.30" width="17.41" height="52.59" fill="#ffff99"/>
<rect x="295.42" y="376.46" width="34.82" height="49.35" fill="#ffff99"/>
<rect x="330.24" y="370.11" width="34.82" height="68.12" fill="#ffff99"/>
<rect x="51.68" y="391.54" width="8.70" height="12.79" fill="#99f799"/>
<rect x="60.38" y="393.02" width="8.71" height="9.63" fill="#99f799"/>
<rect x="69.09" y="393.27" width="8.70" height="9.10" fill="#99f799"/>
<rect x="77.80" y="393.27" width="8.70" height="9.10" fill="#99f799"/>
<rect x="86.50" y="393.27" width="8.70" height="9.10" fill="#99f799"/>
<rect x="95.20" y="393.27" width="8.70" height="9.10" fill="#99f799"/>
<rect x="103.91" y="393.27" width="8.70" height="9.10" fill="#99f799"/>
<rect x="112.61" y="393.27" width="8.71" height="9.10" fill="#99f799"/>
<rect x="121.32" y="393.27" width="8.70" height="9.10" fill="#99f799"/>
<rect x="130.03" y="392.94" width="8.71" height="9.80" fill="#99f799"/>
<rect x="138.73" y="392.77" width="8.70" height="10.15" fill="#99f799"/>
<rect x="147.44" y="392.61" width="8.70" height="10.50" fill="#99f799"/>
<rect x="156.14" y="392.44" width="8.71" height="10.85" fill="#99f799"/>
<rect x="164.85" y="392.36" width="8.70" height="11.03" fill="#99f799"/>
<rect x="173.55" y="392.19" width="8.70" height="11.38" fill="#99f799"/>
<rect x="182.25" y="392.03" width="8.70" height="11.73" fill="#99f799"/>
<rect x="190.96" y="391.38" width="17.41" height="13.14" fill="#99f799"/>
<rect x="208.37" y="389.61" width="17.41" height="17.01" fill="#99f799"/>
<rect x="225.78" y="389.77" width="17.41" height="16.66" fill="#99f799"/>
<rect x="243.19" y="388.58" width="17.41" height="19.31" fill="#99f799"/>
<rect x="260.60" y="386.71" width="17.41" height="23.57" fill="#99f799"/>
<rect x="278.01" y="385.33" width="17.41" height="26.78" fill="#99f799"/>
<rect x="295.42" y="386.48" width="34.82" height="24.11" fill="#99f799"/>
<rect x="330.24" y="382.49" width="34.82" height="33.63" fill="#99f799"/>
<line x1="45.50" y1="397.70" x2="371.50" y2="397.70" stroke="#111" stroke-width="1.3" />
<line x1="199.67" y1="406.55" x2="199.67" y2="410.73" stroke="#ff8080" stroke-width="1.0" />
<line x1="198.07" y1="406.55" x2="201.27" y2="406.55" stroke="#ff8080" stroke-width="1.0" />
<line x1="198.07" y1="410.73" x2="201.27" y2="410.73" stroke="#ff8080" stroke-width="1.0" />
<line x1="217.07" y1="402.37" x2="217.07" y2="410.72" stroke="#ff8080" stroke-width="1.0" />
<line x1="215.47" y1="402.37" x2="218.67" y2="402.37" stroke="#ff8080" stroke-width="1.0" />
<line x1="215.47" y1="410.72" x2="218.67" y2="410.72" stroke="#ff8080" stroke-width="1.0" />
<line x1="234.49" y1="402.08" x2="234.49" y2="407.84" stroke="#ff8080" stroke-width="1.0" />
<line x1="232.89" y1="402.08" x2="236.09" y2="402.08" stroke="#ff8080" stroke-width="1.0" />
<line x1="232.89" y1="407.84" x2="236.09" y2="407.84" stroke="#ff8080" stroke-width="1.0" />
<line x1="251.89" y1="388.75" x2="251.89" y2="398.87" stroke="#ff8080" stroke-width="1.0" />
<line x1="250.29" y1="388.75" x2="253.49" y2="388.75" stroke="#ff8080" stroke-width="1.0" />
<line x1="250.29" y1="398.87" x2="253.49" y2="398.87" stroke="#ff8080" stroke-width="1.0" />
<line x1="269.31" y1="382.63" x2="269.31" y2="388.68" stroke="#ff8080" stroke-width="1.0" />
<line x1="267.70" y1="382.63" x2="270.91" y2="382.63" stroke="#ff8080" stroke-width="1.0" />
<line x1="267.70" y1="388.68" x2="270.91" y2="388.68" stroke="#ff8080" stroke-width="1.0" />
<line x1="286.72" y1="401.37" x2="286.72" y2="432.23" stroke="#ff8080" stroke-width="1.0" />
<line x1="285.12" y1="401.37" x2="288.32" y2="401.37" stroke="#ff8080" stroke-width="1.0" />
<line x1="285.12" y1="432.23" x2="288.32" y2="432.23" stroke="#ff8080" stroke-width="1.0" />
<line x1="312.83" y1="386.25" x2="312.83" y2="401.81" stroke="#ff8080" stroke-width="1.0" />
<line x1="311.23" y1="386.25" x2="314.43" y2="386.25" stroke="#ff8080" stroke-width="1.0" />
<line x1="311.23" y1="401.81" x2="314.43" y2="401.81" stroke="#ff8080" stroke-width="1.0" />
<line x1="347.65" y1="410.15" x2="347.65" y2="435.07" stroke="#ff8080" stroke-width="1.0" />
<line x1="346.05" y1="410.15" x2="349.25" y2="410.15" stroke="#ff8080" stroke-width="1.0" />
<line x1="346.05" y1="435.07" x2="349.25" y2="435.07" stroke="#ff8080" stroke-width="1.0" />
<polyline points="56.03,398.94 64.74,398.21 73.44,397.31 82.15,399.19 90.85,400.68 99.56,400.63 108.26,401.64 116.97,401.16 125.67,402.04 134.38,403.86 143.08,400.64 151.79,406.16 160.49,404.63 169.20,407.58 177.90,399.94 186.61,405.09 199.67,408.64 217.07,406.54 234.49,404.96 251.89,393.81 269.31,385.66 286.72,416.80 312.83,394.03 347.65,422.61" fill="none" stroke="#ff8080" stroke-width="1.2" stroke-linejoin="round"/>
<circle cx="56.03" cy="398.94" r="2.0" fill="none" stroke="#ff8080" stroke-width="1.0"/>
<circle cx="64.74" cy="398.21" r="2.0" fill="none" stroke="#ff8080" stroke-width="1.0"/>
<circle cx="73.44" cy="397.31" r="2.0" fill="none" stroke="#ff8080" stroke-width="1.0"/>
<circle cx="82.15" cy="399.19" r="2.0" fill="none" stroke="#ff8080" stroke-width="1.0"/>
<circle cx="90.85" cy="400.68" r="2.0" fill="none" stroke="#ff8080" stroke-width="1.0"/>
<circle cx="99.56" cy="400.63" r="2.0" fill="none" stroke="#ff8080" stroke-width="1.0"/>
<circle cx="108.26" cy="401.64" r="2.0" fill="none" stroke="#ff8080" stroke-width="1.0"/>
<circle cx="116.97" cy="401.16" r="2.0" fill="none" stroke="#ff8080" stroke-width="1.0"/>
<circle cx="125.67" cy="402.04" r="2.0" fill="none" stroke="#ff8080" stroke-width="1.0"/>
<circle cx="134.38" cy="403.86" r="2.0" fill="none" stroke="#ff8080" stroke-width="1.0"/>
<circle cx="143.08" cy="400.64" r="2.0" fill="none" stroke="#ff8080" stroke-width="1.0"/>
<circle cx="151.79" cy="406.16" r="2.0" fill="none" stroke="#ff8080" stroke-width="1.0"/>
<circle cx="160.49" cy="404.63" r="2.0" fill="none" stroke="#ff8080" stroke-width="1.0"/>
<circle cx="169.20" cy="407.58" r="2.0" fill="none" stroke="#ff8080" stroke-width="1.0"/>
<circle cx="177.90" cy="399.94" r="2.0" fill="none" stroke="#ff8080" stroke-width="1.0"/>
<circle cx="186.61" cy="405.09" r="2.0" fill="none" stroke="#ff8080" stroke-width="1.0"/>
<circle cx="199.67" cy="408.64" r="2.0" fill="none" stroke="#ff8080" stroke-width="1.0"/>
<circle cx="217.07" cy="406.54" r="2.0" fill="none" stroke="#ff8080" stroke-width="1.0"/>
<circle cx="234.49" cy="404.96" r="2.0" fill="none" stroke="#ff8080" stroke-width="1.0"/>
<circle cx="251.89" cy="393.81" r="2.0" fill="none" stroke="#ff8080" stroke-width="1.0"/>
<circle cx="269.31" cy="385.66" r="2.0" fill="none" stroke="#ff8080" stroke-width="1.0"/>
<circle cx="286.72" cy="416.80" r="2.0" fill="none" stroke="#ff8080" stroke-width="1.0"/>
<circle cx="312.83" cy="394.03" r="2.0" fill="none" stroke="#ff8080" stroke-width="1.0"/>
<circle cx="347.65" cy="422.61" r="2.0" fill="none" stroke="#ff8080" stroke-width="1.0"/>
<line x1="286.72" y1="400.82" x2="286.72" y2="403.89" stroke="#3c9c28" stroke-width="1.0" />
<line x1="285.12" y1="400.82" x2="288.32" y2="400.82" stroke="#3c9c28" stroke-width="1.0" />
<line x1="285.12" y1="403.89" x2="288.32" y2="403.89" stroke="#3c9c28" stroke-width="1.0" />
<line x1="312.83" y1="408.64" x2="312.83" y2="417.03" stroke="#3c9c28" stroke-width="1.0" />
<line x1="311.23" y1="408.64" x2="314.43" y2="408.64" stroke="#3c9c28" stroke-width="1.0" />
<line x1="311.23" y1="417.03" x2="314.43" y2="417.03" stroke="#3c9c28" stroke-width="1.0" />
<line x1="347.65" y1="405.52" x2="347.65" y2="412.63" stroke="#3c9c28" stroke-width="1.0" />
<line x1="346.05" y1="405.52" x2="349.25" y2="405.52" stroke="#3c9c28" stroke-width="1.0" />
<line x1="346.05" y1="412.63" x2="349.25" y2="412.63" stroke="#3c9c28" stroke-width="1.0" />
<polyline points="56.03,393.66 64.74,400.38 73.44,402.69 82.15,404.31 90.85,406.92 99.56,405.73 108.26,407.46 116.97,406.33 125.67,406.90 134.38,407.90 143.08,407.96 151.79,412.47 160.49,407.14 169.20,412.37 177.90,412.88 186.61,415.16 199.67,414.81 217.07,406.88 234.49,417.32 251.89,410.31 269.31,393.24 286.72,402.36 312.83,412.83 347.65,409.07" fill="none" stroke="#3c9c28" stroke-width="1.3" stroke-dasharray="3.2,2.3" stroke-linejoin="round"/>
<rect x="53.33" y="390.96" width="5.4" height="5.4" fill="none" stroke="#3c9c28" stroke-width="1.15"/>
<rect x="62.04" y="397.68" width="5.4" height="5.4" fill="none" stroke="#3c9c28" stroke-width="1.15"/>
<rect x="70.74" y="399.99" width="5.4" height="5.4" fill="none" stroke="#3c9c28" stroke-width="1.15"/>
<rect x="79.45" y="401.61" width="5.4" height="5.4" fill="none" stroke="#3c9c28" stroke-width="1.15"/>
<rect x="88.15" y="404.22" width="5.4" height="5.4" fill="none" stroke="#3c9c28" stroke-width="1.15"/>
<rect x="96.86" y="403.03" width="5.4" height="5.4" fill="none" stroke="#3c9c28" stroke-width="1.15"/>
<rect x="105.56" y="404.76" width="5.4" height="5.4" fill="none" stroke="#3c9c28" stroke-width="1.15"/>
<rect x="114.27" y="403.63" width="5.4" height="5.4" fill="none" stroke="#3c9c28" stroke-width="1.15"/>
<rect x="122.97" y="404.20" width="5.4" height="5.4" fill="none" stroke="#3c9c28" stroke-width="1.15"/>
<rect x="131.68" y="405.20" width="5.4" height="5.4" fill="none" stroke="#3c9c28" stroke-width="1.15"/>
<rect x="140.38" y="405.26" width="5.4" height="5.4" fill="none" stroke="#3c9c28" stroke-width="1.15"/>
<rect x="149.09" y="409.77" width="5.4" height="5.4" fill="none" stroke="#3c9c28" stroke-width="1.15"/>
<rect x="157.79" y="404.44" width="5.4" height="5.4" fill="none" stroke="#3c9c28" stroke-width="1.15"/>
<rect x="166.50" y="409.67" width="5.4" height="5.4" fill="none" stroke="#3c9c28" stroke-width="1.15"/>
<rect x="175.20" y="410.18" width="5.4" height="5.4" fill="none" stroke="#3c9c28" stroke-width="1.15"/>
<rect x="183.91" y="412.46" width="5.4" height="5.4" fill="none" stroke="#3c9c28" stroke-width="1.15"/>
<rect x="196.97" y="412.11" width="5.4" height="5.4" fill="none" stroke="#3c9c28" stroke-width="1.15"/>
<rect x="214.38" y="404.18" width="5.4" height="5.4" fill="none" stroke="#3c9c28" stroke-width="1.15"/>
<rect x="231.79" y="414.62" width="5.4" height="5.4" fill="none" stroke="#3c9c28" stroke-width="1.15"/>
<rect x="249.19" y="407.61" width="5.4" height="5.4" fill="none" stroke="#3c9c28" stroke-width="1.15"/>
<rect x="266.61" y="390.54" width="5.4" height="5.4" fill="none" stroke="#3c9c28" stroke-width="1.15"/>
<rect x="284.02" y="399.66" width="5.4" height="5.4" fill="none" stroke="#3c9c28" stroke-width="1.15"/>
<rect x="310.13" y="410.13" width="5.4" height="5.4" fill="none" stroke="#3c9c28" stroke-width="1.15"/>
<rect x="344.95" y="406.37" width="5.4" height="5.4" fill="none" stroke="#3c9c28" stroke-width="1.15"/>
<line x1="251.89" y1="388.66" x2="251.89" y2="392.85" stroke="#9e1e3e" stroke-width="1.0" />
<line x1="250.29" y1="388.66" x2="253.49" y2="388.66" stroke="#9e1e3e" stroke-width="1.0" />
<line x1="250.29" y1="392.85" x2="253.49" y2="392.85" stroke="#9e1e3e" stroke-width="1.0" />
<line x1="269.31" y1="376.50" x2="269.31" y2="379.27" stroke="#9e1e3e" stroke-width="1.0" />
<line x1="267.70" y1="376.50" x2="270.91" y2="376.50" stroke="#9e1e3e" stroke-width="1.0" />
<line x1="267.70" y1="379.27" x2="270.91" y2="379.27" stroke="#9e1e3e" stroke-width="1.0" />
<line x1="286.72" y1="389.61" x2="286.72" y2="393.69" stroke="#9e1e3e" stroke-width="1.0" />
<line x1="285.12" y1="389.61" x2="288.32" y2="389.61" stroke="#9e1e3e" stroke-width="1.0" />
<line x1="285.12" y1="393.69" x2="288.32" y2="393.69" stroke="#9e1e3e" stroke-width="1.0" />
<line x1="312.83" y1="394.33" x2="312.83" y2="399.93" stroke="#9e1e3e" stroke-width="1.0" />
<line x1="311.23" y1="394.33" x2="314.43" y2="394.33" stroke="#9e1e3e" stroke-width="1.0" />
<line x1="311.23" y1="399.93" x2="314.43" y2="399.93" stroke="#9e1e3e" stroke-width="1.0" />
<line x1="347.65" y1="383.37" x2="347.65" y2="393.18" stroke="#9e1e3e" stroke-width="1.0" />
<line x1="346.05" y1="383.37" x2="349.25" y2="383.37" stroke="#9e1e3e" stroke-width="1.0" />
<line x1="346.05" y1="393.18" x2="349.25" y2="393.18" stroke="#9e1e3e" stroke-width="1.0" />
<polyline points="56.03,393.51 64.74,393.65 73.44,393.15 82.15,393.98 90.85,396.10 99.56,395.49 108.26,396.34 116.97,395.59 125.67,397.05 134.38,396.83 143.08,395.42 151.79,400.50 160.49,396.40 169.20,402.24 177.90,398.42 186.61,404.28 199.67,401.94 217.07,391.60 234.49,398.25 251.89,390.75 269.31,377.88 286.72,391.65 312.83,397.13 347.65,388.28" fill="none" stroke="#9e1e3e" stroke-width="1.3" stroke-linejoin="round"/>
<polygon points="56.03,390.41 53.03,396.41 59.03,396.41" fill="none" stroke="#9e1e3e" stroke-width="1.05" stroke-linejoin="miter"/>
<polygon points="64.74,390.55 61.74,396.55 67.74,396.55" fill="none" stroke="#9e1e3e" stroke-width="1.05" stroke-linejoin="miter"/>
<polygon points="73.44,390.05 70.44,396.05 76.44,396.05" fill="none" stroke="#9e1e3e" stroke-width="1.05" stroke-linejoin="miter"/>
<polygon points="82.15,390.88 79.15,396.88 85.15,396.88" fill="none" stroke="#9e1e3e" stroke-width="1.05" stroke-linejoin="miter"/>
<polygon points="90.85,393.00 87.85,399.00 93.85,399.00" fill="none" stroke="#9e1e3e" stroke-width="1.05" stroke-linejoin="miter"/>
<polygon points="99.56,392.39 96.56,398.39 102.56,398.39" fill="none" stroke="#9e1e3e" stroke-width="1.05" stroke-linejoin="miter"/>
<polygon points="108.26,393.24 105.26,399.24 111.26,399.24" fill="none" stroke="#9e1e3e" stroke-width="1.05" stroke-linejoin="miter"/>
<polygon points="116.97,392.49 113.97,398.49 119.97,398.49" fill="none" stroke="#9e1e3e" stroke-width="1.05" stroke-linejoin="miter"/>
<polygon points="125.67,393.95 122.67,399.95 128.67,399.95" fill="none" stroke="#9e1e3e" stroke-width="1.05" stroke-linejoin="miter"/>
<polygon points="134.38,393.73 131.38,399.73 137.38,399.73" fill="none" stroke="#9e1e3e" stroke-width="1.05" stroke-linejoin="miter"/>
<polygon points="143.08,392.32 140.08,398.32 146.08,398.32" fill="none" stroke="#9e1e3e" stroke-width="1.05" stroke-linejoin="miter"/>
<polygon points="151.79,397.40 148.79,403.40 154.79,403.40" fill="none" stroke="#9e1e3e" stroke-width="1.05" stroke-linejoin="miter"/>
<polygon points="160.49,393.30 157.49,399.30 163.49,399.30" fill="none" stroke="#9e1e3e" stroke-width="1.05" stroke-linejoin="miter"/>
<polygon points="169.20,399.14 166.20,405.14 172.20,405.14" fill="none" stroke="#9e1e3e" stroke-width="1.05" stroke-linejoin="miter"/>
<polygon points="177.90,395.32 174.90,401.32 180.90,401.32" fill="none" stroke="#9e1e3e" stroke-width="1.05" stroke-linejoin="miter"/>
<polygon points="186.61,401.18 183.61,407.18 189.61,407.18" fill="none" stroke="#9e1e3e" stroke-width="1.05" stroke-linejoin="miter"/>
<polygon points="199.67,398.84 196.67,404.84 202.67,404.84" fill="none" stroke="#9e1e3e" stroke-width="1.05" stroke-linejoin="miter"/>
<polygon points="217.07,388.50 214.07,394.50 220.07,394.50" fill="none" stroke="#9e1e3e" stroke-width="1.05" stroke-linejoin="miter"/>
<polygon points="234.49,395.15 231.49,401.15 237.49,401.15" fill="none" stroke="#9e1e3e" stroke-width="1.05" stroke-linejoin="miter"/>
<polygon points="251.89,387.65 248.89,393.65 254.89,393.65" fill="none" stroke="#9e1e3e" stroke-width="1.05" stroke-linejoin="miter"/>
<polygon points="269.31,374.78 266.31,380.78 272.31,380.78" fill="none" stroke="#9e1e3e" stroke-width="1.05" stroke-linejoin="miter"/>
<polygon points="286.72,388.55 283.72,394.55 289.72,394.55" fill="none" stroke="#9e1e3e" stroke-width="1.05" stroke-linejoin="miter"/>
<polygon points="312.83,394.03 309.83,400.03 315.83,400.03" fill="none" stroke="#9e1e3e" stroke-width="1.05" stroke-linejoin="miter"/>
<polygon points="347.65,385.18 344.65,391.18 350.65,391.18" fill="none" stroke="#9e1e3e" stroke-width="1.05" stroke-linejoin="miter"/>
<line x1="286.72" y1="400.29" x2="286.72" y2="403.35" stroke="#0000ff" stroke-width="1.0" />
<line x1="285.12" y1="400.29" x2="288.32" y2="400.29" stroke="#0000ff" stroke-width="1.0" />
<line x1="285.12" y1="403.35" x2="288.32" y2="403.35" stroke="#0000ff" stroke-width="1.0" />
<line x1="312.83" y1="399.02" x2="312.83" y2="403.42" stroke="#0000ff" stroke-width="1.0" />
<line x1="311.23" y1="399.02" x2="314.43" y2="399.02" stroke="#0000ff" stroke-width="1.0" />
<line x1="311.23" y1="403.42" x2="314.43" y2="403.42" stroke="#0000ff" stroke-width="1.0" />
<line x1="347.65" y1="393.13" x2="347.65" y2="402.52" stroke="#0000ff" stroke-width="1.0" />
<line x1="346.05" y1="393.13" x2="349.25" y2="393.13" stroke="#0000ff" stroke-width="1.0" />
<line x1="346.05" y1="402.52" x2="349.25" y2="402.52" stroke="#0000ff" stroke-width="1.0" />
<polyline points="56.03,396.73 64.74,396.33 73.44,395.72 82.15,397.76 90.85,399.36 99.56,399.36 108.26,400.41 116.97,399.95 125.67,400.84 134.38,402.66 143.08,401.27 151.79,407.26 160.49,402.89 169.20,409.23 177.90,404.61 186.61,410.80 199.67,410.76 217.07,400.41 234.49,405.03 251.89,404.32 269.31,387.80 286.72,401.82 312.83,401.22 347.65,397.82" fill="none" stroke="#0000ff" stroke-width="1.2" stroke-linejoin="round"/>
<polygon points="56.03,393.33 52.73,399.33 59.33,399.33" fill="#0000ff"/>
<polygon points="64.74,392.93 61.44,398.93 68.04,398.93" fill="#0000ff"/>
<polygon points="73.44,392.32 70.14,398.32 76.74,398.32" fill="#0000ff"/>
<polygon points="82.15,394.36 78.85,400.36 85.45,400.36" fill="#0000ff"/>
<polygon points="90.85,395.96 87.55,401.96 94.15,401.96" fill="#0000ff"/>
<polygon points="99.56,395.96 96.26,401.96 102.86,401.96" fill="#0000ff"/>
<polygon points="108.26,397.01 104.96,403.01 111.56,403.01" fill="#0000ff"/>
<polygon points="116.97,396.55 113.67,402.55 120.27,402.55" fill="#0000ff"/>
<polygon points="125.67,397.44 122.37,403.44 128.97,403.44" fill="#0000ff"/>
<polygon points="134.38,399.26 131.08,405.26 137.68,405.26" fill="#0000ff"/>
<polygon points="143.08,397.87 139.78,403.87 146.38,403.87" fill="#0000ff"/>
<polygon points="151.79,403.86 148.49,409.86 155.09,409.86" fill="#0000ff"/>
<polygon points="160.49,399.49 157.19,405.49 163.79,405.49" fill="#0000ff"/>
<polygon points="169.20,405.83 165.90,411.83 172.50,411.83" fill="#0000ff"/>
<polygon points="177.90,401.21 174.60,407.21 181.20,407.21" fill="#0000ff"/>
<polygon points="186.61,407.40 183.31,413.40 189.91,413.40" fill="#0000ff"/>
<polygon points="199.67,407.36 196.37,413.36 202.97,413.36" fill="#0000ff"/>
<polygon points="217.07,397.01 213.77,403.01 220.38,403.01" fill="#0000ff"/>
<polygon points="234.49,401.63 231.19,407.63 237.79,407.63" fill="#0000ff"/>
<polygon points="251.89,400.92 248.59,406.92 255.19,406.92" fill="#0000ff"/>
<polygon points="269.31,384.40 266.00,390.40 272.61,390.40" fill="#0000ff"/>
<polygon points="286.72,398.42 283.42,404.42 290.02,404.42" fill="#0000ff"/>
<polygon points="312.83,397.82 309.53,403.82 316.13,403.82" fill="#0000ff"/>
<polygon points="347.65,394.42 344.35,400.42 350.95,400.42" fill="#0000ff"/>
<line x1="347.65" y1="409.75" x2="347.65" y2="419.22" stroke="#ff0000" stroke-width="1.0" />
<line x1="346.05" y1="409.75" x2="349.25" y2="409.75" stroke="#ff0000" stroke-width="1.0" />
<line x1="346.05" y1="419.22" x2="349.25" y2="419.22" stroke="#ff0000" stroke-width="1.0" />
<polyline points="56.03,402.87 64.74,421.73 73.44,433.77 82.15,440.99 90.85,445.28 99.56,445.06 108.26,444.60 116.97,442.17 125.67,440.63 134.38,438.35 143.08,433.93 151.79,437.98 160.49,431.34 169.20,432.17 177.90,429.51 186.61,430.98 199.67,430.11 217.07,418.91 234.49,422.26 251.89,419.52 269.31,398.77 286.72,417.07 312.83,416.87 347.65,414.48" fill="none" stroke="#ff0000" stroke-width="1.2" stroke-dasharray="1.6,1.6" stroke-linejoin="round"/>
<polygon points="56.03,399.47 53.58,402.87 56.03,406.27 58.48,402.87" fill="#ff0000"/>
<polygon points="64.74,418.33 62.29,421.73 64.74,425.13 67.19,421.73" fill="#ff0000"/>
<polygon points="73.44,430.37 70.99,433.77 73.44,437.17 75.89,433.77" fill="#ff0000"/>
<polygon points="82.15,437.59 79.70,440.99 82.15,444.39 84.60,440.99" fill="#ff0000"/>
<polygon points="90.85,441.88 88.40,445.28 90.85,448.68 93.30,445.28" fill="#ff0000"/>
<polygon points="99.56,441.66 97.11,445.06 99.56,448.46 102.01,445.06" fill="#ff0000"/>
<polygon points="108.26,441.20 105.81,444.60 108.26,448.00 110.71,444.60" fill="#ff0000"/>
<polygon points="116.97,438.77 114.52,442.17 116.97,445.57 119.42,442.17" fill="#ff0000"/>
<polygon points="125.67,437.23 123.22,440.63 125.67,444.03 128.12,440.63" fill="#ff0000"/>
<polygon points="134.38,434.95 131.93,438.35 134.38,441.75 136.83,438.35" fill="#ff0000"/>
<polygon points="143.08,430.53 140.63,433.93 143.08,437.33 145.53,433.93" fill="#ff0000"/>
<polygon points="151.79,434.58 149.34,437.98 151.79,441.38 154.24,437.98" fill="#ff0000"/>
<polygon points="160.49,427.94 158.04,431.34 160.49,434.74 162.94,431.34" fill="#ff0000"/>
<polygon points="169.20,428.77 166.75,432.17 169.20,435.57 171.65,432.17" fill="#ff0000"/>
<polygon points="177.90,426.11 175.45,429.51 177.90,432.91 180.35,429.51" fill="#ff0000"/>
<polygon points="186.61,427.58 184.16,430.98 186.61,434.38 189.06,430.98" fill="#ff0000"/>
<polygon points="199.67,426.71 197.22,430.11 199.67,433.51 202.11,430.11" fill="#ff0000"/>
<polygon points="217.07,415.51 214.63,418.91 217.07,422.31 219.52,418.91" fill="#ff0000"/>
<polygon points="234.49,418.86 232.04,422.26 234.49,425.66 236.93,422.26" fill="#ff0000"/>
<polygon points="251.89,416.12 249.45,419.52 251.89,422.92 254.34,419.52" fill="#ff0000"/>
<polygon points="269.31,395.37 266.86,398.77 269.31,402.17 271.75,398.77" fill="#ff0000"/>
<polygon points="286.72,413.67 284.27,417.07 286.72,420.47 289.16,417.07" fill="#ff0000"/>
<polygon points="312.83,413.47 310.38,416.87 312.83,420.27 315.28,416.87" fill="#ff0000"/>
<polygon points="347.65,411.08 345.20,414.48 347.65,417.88 350.10,414.48" fill="#ff0000"/>
<line x1="45.50" y1="458.30" x2="53.50" y2="458.30" stroke="#000" stroke-width="1" />
<line x1="371.50" y1="458.30" x2="363.50" y2="458.30" stroke="#000" stroke-width="1" />
<line x1="45.50" y1="397.70" x2="53.50" y2="397.70" stroke="#000" stroke-width="1" />
<line x1="371.50" y1="397.70" x2="363.50" y2="397.70" stroke="#000" stroke-width="1" />
<line x1="45.50" y1="362.25" x2="53.50" y2="362.25" stroke="#000" stroke-width="1" />
<line x1="371.50" y1="362.25" x2="363.50" y2="362.25" stroke="#000" stroke-width="1" />
<line x1="45.50" y1="337.10" x2="53.50" y2="337.10" stroke="#000" stroke-width="1" />
<line x1="371.50" y1="337.10" x2="363.50" y2="337.10" stroke="#000" stroke-width="1" />
<line x1="45.50" y1="442.36" x2="51.50" y2="442.36" stroke="#000" stroke-width="1" />
<line x1="371.50" y1="442.36" x2="365.50" y2="442.36" stroke="#000" stroke-width="1" />
<line x1="45.50" y1="428.88" x2="51.50" y2="428.88" stroke="#000" stroke-width="1" />
<line x1="371.50" y1="428.88" x2="365.50" y2="428.88" stroke="#000" stroke-width="1" />
<line x1="45.50" y1="417.21" x2="51.50" y2="417.21" stroke="#000" stroke-width="1" />
<line x1="371.50" y1="417.21" x2="365.50" y2="417.21" stroke="#000" stroke-width="1" />
<line x1="45.50" y1="406.91" x2="51.50" y2="406.91" stroke="#000" stroke-width="1" />
<line x1="371.50" y1="406.91" x2="365.50" y2="406.91" stroke="#000" stroke-width="1" />
<line x1="45.50" y1="389.37" x2="51.50" y2="389.37" stroke="#000" stroke-width="1" />
<line x1="371.50" y1="389.37" x2="365.50" y2="389.37" stroke="#000" stroke-width="1" />
<line x1="45.50" y1="381.76" x2="51.50" y2="381.76" stroke="#000" stroke-width="1" />
<line x1="371.50" y1="381.76" x2="365.50" y2="381.76" stroke="#000" stroke-width="1" />
<line x1="45.50" y1="374.76" x2="51.50" y2="374.76" stroke="#000" stroke-width="1" />
<line x1="371.50" y1="374.76" x2="365.50" y2="374.76" stroke="#000" stroke-width="1" />
<line x1="45.50" y1="368.28" x2="51.50" y2="368.28" stroke="#000" stroke-width="1" />
<line x1="371.50" y1="368.28" x2="365.50" y2="368.28" stroke="#000" stroke-width="1" />
<line x1="45.50" y1="356.61" x2="51.50" y2="356.61" stroke="#000" stroke-width="1" />
<line x1="371.50" y1="356.61" x2="365.50" y2="356.61" stroke="#000" stroke-width="1" />
<line x1="45.50" y1="351.31" x2="51.50" y2="351.31" stroke="#000" stroke-width="1" />
<line x1="371.50" y1="351.31" x2="365.50" y2="351.31" stroke="#000" stroke-width="1" />
<line x1="45.50" y1="346.31" x2="51.50" y2="346.31" stroke="#000" stroke-width="1" />
<line x1="371.50" y1="346.31" x2="365.50" y2="346.31" stroke="#000" stroke-width="1" />
<line x1="45.50" y1="341.59" x2="51.50" y2="341.59" stroke="#000" stroke-width="1" />
<line x1="371.50" y1="341.59" x2="365.50" y2="341.59" stroke="#000" stroke-width="1" />
<line x1="45.50" y1="332.84" x2="51.50" y2="332.84" stroke="#000" stroke-width="1" />
<line x1="371.50" y1="332.84" x2="365.50" y2="332.84" stroke="#000" stroke-width="1" />
<line x1="45.50" y1="328.77" x2="51.50" y2="328.77" stroke="#000" stroke-width="1" />
<line x1="371.50" y1="328.77" x2="365.50" y2="328.77" stroke="#000" stroke-width="1" />
<line x1="45.50" y1="324.88" x2="51.50" y2="324.88" stroke="#000" stroke-width="1" />
<line x1="371.50" y1="324.88" x2="365.50" y2="324.88" stroke="#000" stroke-width="1" />
<line x1="45.50" y1="321.16" x2="51.50" y2="321.16" stroke="#000" stroke-width="1" />
<line x1="371.50" y1="321.16" x2="365.50" y2="321.16" stroke="#000" stroke-width="1" />
<line x1="51.68" y1="317.35" x2="51.68" y2="319.95" stroke="#000" stroke-width="1" />
<line x1="51.68" y1="477.70" x2="51.68" y2="475.10" stroke="#000" stroke-width="1" />
<line x1="69.09" y1="317.35" x2="69.09" y2="319.95" stroke="#000" stroke-width="1" />
<line x1="69.09" y1="477.70" x2="69.09" y2="475.10" stroke="#000" stroke-width="1" />
<line x1="86.50" y1="317.35" x2="86.50" y2="322.35" stroke="#000" stroke-width="1" />
<line x1="86.50" y1="477.70" x2="86.50" y2="472.70" stroke="#000" stroke-width="1" />
<line x1="103.91" y1="317.35" x2="103.91" y2="319.95" stroke="#000" stroke-width="1" />
<line x1="103.91" y1="477.70" x2="103.91" y2="475.10" stroke="#000" stroke-width="1" />
<line x1="121.32" y1="317.35" x2="121.32" y2="319.95" stroke="#000" stroke-width="1" />
<line x1="121.32" y1="477.70" x2="121.32" y2="475.10" stroke="#000" stroke-width="1" />
<line x1="138.73" y1="317.35" x2="138.73" y2="319.95" stroke="#000" stroke-width="1" />
<line x1="138.73" y1="477.70" x2="138.73" y2="475.10" stroke="#000" stroke-width="1" />
<line x1="156.14" y1="317.35" x2="156.14" y2="322.35" stroke="#000" stroke-width="1" />
<line x1="156.14" y1="477.70" x2="156.14" y2="472.70" stroke="#000" stroke-width="1" />
<line x1="173.55" y1="317.35" x2="173.55" y2="319.95" stroke="#000" stroke-width="1" />
<line x1="173.55" y1="477.70" x2="173.55" y2="475.10" stroke="#000" stroke-width="1" />
<line x1="190.96" y1="317.35" x2="190.96" y2="319.95" stroke="#000" stroke-width="1" />
<line x1="190.96" y1="477.70" x2="190.96" y2="475.10" stroke="#000" stroke-width="1" />
<line x1="208.37" y1="317.35" x2="208.37" y2="319.95" stroke="#000" stroke-width="1" />
<line x1="208.37" y1="477.70" x2="208.37" y2="475.10" stroke="#000" stroke-width="1" />
<line x1="225.78" y1="317.35" x2="225.78" y2="322.35" stroke="#000" stroke-width="1" />
<line x1="225.78" y1="477.70" x2="225.78" y2="472.70" stroke="#000" stroke-width="1" />
<line x1="243.19" y1="317.35" x2="243.19" y2="319.95" stroke="#000" stroke-width="1" />
<line x1="243.19" y1="477.70" x2="243.19" y2="475.10" stroke="#000" stroke-width="1" />
<line x1="260.60" y1="317.35" x2="260.60" y2="319.95" stroke="#000" stroke-width="1" />
<line x1="260.60" y1="477.70" x2="260.60" y2="475.10" stroke="#000" stroke-width="1" />
<line x1="278.01" y1="317.35" x2="278.01" y2="319.95" stroke="#000" stroke-width="1" />
<line x1="278.01" y1="477.70" x2="278.01" y2="475.10" stroke="#000" stroke-width="1" />
<line x1="295.42" y1="317.35" x2="295.42" y2="322.35" stroke="#000" stroke-width="1" />
<line x1="295.42" y1="477.70" x2="295.42" y2="472.70" stroke="#000" stroke-width="1" />
<line x1="312.83" y1="317.35" x2="312.83" y2="319.95" stroke="#000" stroke-width="1" />
<line x1="312.83" y1="477.70" x2="312.83" y2="475.10" stroke="#000" stroke-width="1" />
<line x1="330.24" y1="317.35" x2="330.24" y2="319.95" stroke="#000" stroke-width="1" />
<line x1="330.24" y1="477.70" x2="330.24" y2="475.10" stroke="#000" stroke-width="1" />
<line x1="347.65" y1="317.35" x2="347.65" y2="319.95" stroke="#000" stroke-width="1" />
<line x1="347.65" y1="477.70" x2="347.65" y2="475.10" stroke="#000" stroke-width="1" />
<line x1="365.06" y1="317.35" x2="365.06" y2="322.35" stroke="#000" stroke-width="1" />
<line x1="365.06" y1="477.70" x2="365.06" y2="472.70" stroke="#000" stroke-width="1" />
<rect x="45.5" y="317.35" width="326.0" height="160.34999999999997" fill="none" stroke="#000" stroke-width="1.1"/>
<line x1="45.50" y1="477.70" x2="371.50" y2="477.70" stroke="#000" stroke-width="1.8" />
<text x="38.3" y="341.00" text-anchor="end" font-size="11.2" font-family="Liberation Sans, sans-serif">2</text>
<text x="38.3" y="401.60" text-anchor="end" font-size="11.2" font-family="Liberation Sans, sans-serif">1</text>
<text x="38.3" y="462.20" text-anchor="end" font-size="11.2" font-family="Liberation Sans, sans-serif">0.5</text>
<text x="86.50" y="488.6" text-anchor="middle" font-size="11.2" font-family="Liberation Sans, sans-serif">2</text>
<text x="156.14" y="488.6" text-anchor="middle" font-size="11.2" font-family="Liberation Sans, sans-serif">4</text>
<text x="225.78" y="488.6" text-anchor="middle" font-size="11.2" font-family="Liberation Sans, sans-serif">6</text>
<text x="295.42" y="488.6" text-anchor="middle" font-size="11.2" font-family="Liberation Sans, sans-serif">8</text>
<text x="365.06" y="488.6" text-anchor="middle" font-size="11.2" font-family="Liberation Sans, sans-serif">10</text>
<g font-size="12.5" font-family="Liberation Sans, sans-serif"><text x="242.6" y="502">p</text><text x="250.2" y="507.6" font-size="8.8">T</text><text x="258.0" y="502" textLength="115.8" lengthAdjust="spacingAndGlyphs">(leading track) [GeV]</text></g>
<text x="373.2" y="341.00" font-size="11.2" font-family="Liberation Sans, sans-serif">2</text>
<text x="373.2" y="401.60" font-size="11.2" font-family="Liberation Sans, sans-serif">1</text>
<text x="373.2" y="462.20" font-size="11.2" font-family="Liberation Sans, sans-serif">0.5</text>
<text transform="translate(19,428) rotate(-90)" font-size="9.3" font-family="Liberation Sans, sans-serif">Ratio to ATLAS</text></svg></body></html>
